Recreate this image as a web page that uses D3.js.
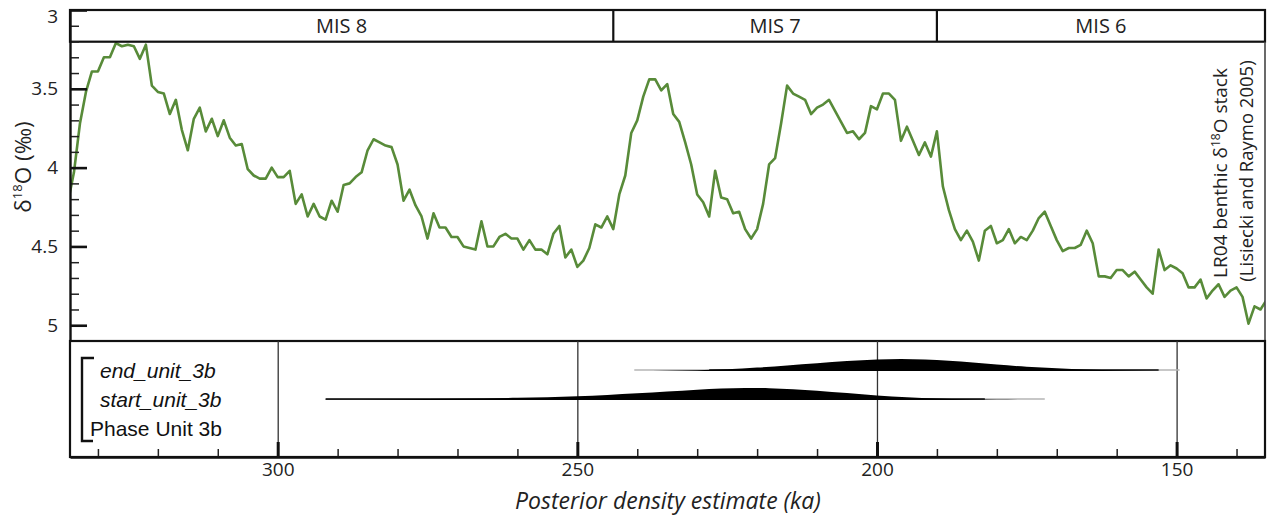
<!DOCTYPE html>
<html>
<head>
<meta charset="utf-8">
<script src="https://cdn.jsdelivr.net/npm/d3@7"></script>
<style>
body { margin: 0; background: #fff; }
svg { display: block; }
.axis text { font-family: "Open Sans", sans-serif; font-size: 19px; fill: #222; }
.lbl { font-family: "Open Sans", sans-serif; fill: #222; }
.row { font-family: "Liberation Sans", Arial, sans-serif; font-size: 21px; fill: #111; }
</style>
</head>
<body>
<div id="chart"></div>
<script>
// LR04 stack, one sample per ka from 335 to 135 ka
var ages = d3.range(335, 134, -1);
var d18O = [
    4.22, 4.03, 3.72, 3.52, 3.39, 3.39, 3.30, 3.30, 3.21, 3.23,
    3.22, 3.23, 3.31, 3.22, 3.48, 3.52, 3.53, 3.66, 3.57, 3.76,
    3.89, 3.69, 3.62, 3.77, 3.69, 3.80, 3.70, 3.81, 3.86, 3.85,
    4.01, 4.05, 4.07, 4.07, 4.00, 4.06, 4.06, 4.02, 4.23, 4.17,
    4.31, 4.23, 4.31, 4.33, 4.21, 4.28, 4.11, 4.10, 4.06, 4.03,
    3.89, 3.82, 3.84, 3.86, 3.87, 3.98, 4.21, 4.14, 4.24, 4.31,
    4.45, 4.29, 4.38, 4.38, 4.44, 4.44, 4.50, 4.51, 4.52, 4.34,
    4.50, 4.50, 4.44, 4.42, 4.45, 4.45, 4.52, 4.46, 4.52, 4.52,
    4.55, 4.42, 4.37, 4.57, 4.52, 4.63, 4.59, 4.51, 4.36, 4.38,
    4.31, 4.39, 4.17, 4.05, 3.78, 3.70, 3.55, 3.44, 3.44, 3.51,
    3.47, 3.66, 3.71, 3.84, 3.98, 4.17, 4.22, 4.31, 4.02, 4.19,
    4.20, 4.29, 4.28, 4.39, 4.45, 4.39, 4.23, 3.98, 3.94, 3.72,
    3.48, 3.53, 3.55, 3.57, 3.66, 3.62, 3.60, 3.57, 3.64, 3.71,
    3.78, 3.77, 3.82, 3.78, 3.61, 3.63, 3.53, 3.53, 3.57, 3.83,
    3.74, 3.83, 3.92, 3.84, 3.93, 3.77, 4.12, 4.27, 4.39, 4.46,
    4.40, 4.47, 4.59, 4.40, 4.37, 4.48, 4.46, 4.39, 4.48, 4.44,
    4.46, 4.40, 4.32, 4.28, 4.37, 4.46, 4.53, 4.51, 4.51, 4.49,
    4.40, 4.48, 4.69, 4.69, 4.70, 4.65, 4.65, 4.69, 4.66, 4.71,
    4.76, 4.80, 4.52, 4.65, 4.62, 4.64, 4.67, 4.76, 4.76, 4.71,
    4.83, 4.78, 4.74, 4.82, 4.78, 4.76, 4.82, 4.99, 4.88, 4.90,
    4.84
];

// marine isotope stages
var misLabels = ["MIS 8", "MIS 7", "MIS 6"];
var misBounds = [244, 190];

// posterior densities (relative)
var rowLabels = ["end_unit_3b", "start_unit_3b", "Phase Unit 3b"];
var endAges = [240, 235, 230, 225, 220, 215, 210, 205, 200, 196, 192, 188, 184, 180, 175, 170, 165, 160, 155, 150];
var endDens = [0, 0.02, 0.06, 0.14, 0.27, 0.43, 0.6, 0.77, 0.9, 0.94, 0.9, 0.8, 0.66, 0.5, 0.34, 0.22, 0.13, 0.07, 0.03, 0];
var endRange = [240.5, 149.5];
var endCore = [228, 153];
var startAges = [292, 280, 270, 260, 250, 245, 240, 235, 230, 226, 222, 218, 214, 210, 205, 200, 195, 190, 185, 180, 172];
var startDens = [0.04, 0.07, 0.11, 0.18, 0.3, 0.4, 0.52, 0.66, 0.8, 0.9, 0.94, 0.92, 0.84, 0.72, 0.54, 0.36, 0.22, 0.12, 0.06, 0.02, 0];
var startRange = [292, 172];
var startCore = [292, 182];

// ticks
var majorX = [300, 250, 200, 150];
var minorX = [330, 320, 310, 290, 280, 270, 260, 240, 230, 220, 210, 190, 180, 170, 160, 140];
var majorY = [3, 3.5, 4, 4.5, 5];
var minorY = [3.1, 3.2, 3.3, 3.4, 3.6, 3.7, 3.8, 3.9, 4.1, 4.2, 4.3, 4.4, 4.6, 4.7, 4.8, 4.9];

var W = 1268, H = 517;
var pLeft = 70, pRight = 1265, pTop = 10, pSep = 341, pBottom = 457, bandBottom = 41.7;

var svg = d3.select("#chart").append("svg")
    .attr("width", W)
    .attr("height", H);

var x = d3.scaleLinear().domain([334.66, 135.25]).range([pLeft, pRight]);
var y = d3.scaleLinear().domain([3, 5.1]).range([pTop, pSep]);
var rowY = d3.scalePoint().domain(rowLabels).range([370, 428]);
var h = d3.scaleLinear().domain([0, 1]).range([0, 13]);

svg.append("clipPath").attr("id", "clipTop")
    .append("rect")
    .attr("x", pLeft).attr("y", pTop)
    .attr("width", pRight - pLeft).attr("height", pSep - pTop);

// the isotope curve
var line = d3.line()
    .x(function (d, i) { return x(ages[i]); })
    .y(function (d) { return y(d); });

svg.append("path")
    .datum(d18O)
    .attr("clip-path", "url(#clipTop)")
    .attr("fill", "none")
    .attr("stroke", "#588b39")
    .attr("stroke-width", 2.6)
    .attr("stroke-linejoin", "round")
    .attr("d", line);

// MIS band
svg.append("rect")
    .attr("x", pLeft).attr("y", pTop)
    .attr("width", pRight - pLeft).attr("height", bandBottom - pTop)
    .attr("fill", "#fff")
    .attr("stroke", "#111")
    .attr("stroke-width", 2.2);

svg.selectAll(".misdiv")
    .data(misBounds)
    .enter().append("line")
    .attr("class", "misdiv")
    .attr("x1", function (d) { return x(d); })
    .attr("x2", function (d) { return x(d); })
    .attr("y1", pTop).attr("y2", bandBottom)
    .attr("stroke", "#111")
    .attr("stroke-width", 2.2);

var edges = [x.domain()[0]].concat(misBounds, [x.domain()[1]]);
svg.selectAll(".mislabel")
    .data(misLabels)
    .enter().append("text")
    .attr("class", "lbl")
    .attr("x", function (d, i) { return (x(edges[i]) + x(edges[i + 1])) / 2; })
    .attr("y", (pTop + bandBottom) / 2 + 7)
    .attr("text-anchor", "middle")
    .style("font-size", "20px")
    .text(function (d) { return d; });

// right border of top panel
svg.append("line")
    .attr("x1", pRight).attr("x2", pRight)
    .attr("y1", bandBottom).attr("y2", pSep)
    .attr("stroke", "#444")
    .attr("stroke-width", 1.6);

// bottom panel frame
svg.append("rect")
    .attr("x", pLeft).attr("y", pSep)
    .attr("width", pRight - pLeft).attr("height", pBottom - pSep)
    .attr("fill", "none")
    .attr("stroke", "#111")
    .attr("stroke-width", 2.2);

// vertical gridlines in bottom panel
svg.append("g")
    .attr("class", "grid")
    .attr("transform", "translate(0," + pBottom + ")")
    .call(d3.axisBottom(x)
        .tickValues(majorX)
        .tickSize(-(pBottom - pSep))
        .tickFormat(""))
    .call(function (g) { g.select(".domain").remove(); })
    .selectAll("line")
    .attr("stroke", "#333")
    .attr("stroke-width", 1.3);

// densities: thin range line (grey tails, black core) with filled posterior on top
function drawDensity(name, a, dens, range, core) {
    var base = rowY(name);
    var pts = a.map(function (d, i) { return [d, dens[i]]; });

    svg.append("line")
        .attr("x1", x(range[0])).attr("x2", x(range[1]))
        .attr("y1", base).attr("y2", base)
        .attr("stroke", "#b4b4b4")
        .attr("stroke-width", 1.6);

    svg.append("line")
        .attr("x1", x(core[0])).attr("x2", x(core[1]))
        .attr("y1", base).attr("y2", base)
        .attr("stroke", "#111")
        .attr("stroke-width", 1.4);

    svg.append("path")
        .datum(pts)
        .attr("fill", "#000")
        .attr("d", d3.area()
            .curve(d3.curveMonotoneX)
            .x(function (d) { return x(d[0]); })
            .y0(base + 1.1)
            .y1(function (d) { return base + 1.1 - h(d[1]); }));
}
drawDensity("end_unit_3b", endAges, endDens, endRange, endCore);
drawDensity("start_unit_3b", startAges, startDens, startRange, startCore);

// row labels and bracket
svg.selectAll(".row")
    .data(rowLabels)
    .enter().append("text")
    .attr("class", "row")
    .attr("x", function (d, i) { return i < 2 ? 100 : 90; })
    .attr("y", function (d) { return rowY(d) + 8; })
    .style("font-style", function (d, i) { return i < 2 ? "italic" : "normal"; })
    .text(function (d) { return d; });

svg.append("path")
    .attr("d", "M94,358H82V441H93")
    .attr("fill", "none")
    .attr("stroke", "#111")
    .attr("stroke-width", 2.4);

// y axis (top panel)
svg.append("g")
    .attr("class", "axis")
    .attr("transform", "translate(" + pLeft + ",0)")
    .call(d3.axisLeft(y).tickValues(minorY).tickSize(-9).tickSizeOuter(0).tickFormat(""))
    .call(function (g) { g.select(".domain").remove(); })
    .selectAll("line").attr("stroke", "#222").attr("stroke-width", 1.5);

var yAxis = svg.append("g")
    .attr("class", "axis")
    .attr("transform", "translate(" + pLeft + ",0)")
    .call(d3.axisLeft(y).tickValues(majorY).tickSize(-17).tickSizeOuter(0).tickPadding(12).tickFormat(d3.format("")));
yAxis.select(".domain").attr("stroke", "#111").attr("stroke-width", 2.4);
yAxis.selectAll(".tick line").attr("stroke", "#111").attr("stroke-width", 2.6);
yAxis.selectAll(".tick text").filter(function (d) { return d === 3; }).attr("y", 6);

// x axis (bottom panel)
svg.append("g")
    .attr("class", "axis")
    .attr("transform", "translate(0," + pBottom + ")")
    .call(d3.axisBottom(x).tickValues(minorX).tickSize(-8).tickSizeOuter(0).tickFormat(""))
    .call(function (g) { g.select(".domain").remove(); })
    .selectAll("line").attr("stroke", "#222").attr("stroke-width", 1.5);

var xAxis = svg.append("g")
    .attr("class", "axis")
    .attr("transform", "translate(0," + pBottom + ")")
    .call(d3.axisBottom(x).tickValues(majorX).tickSize(-15).tickSizeOuter(0).tickPadding(5));
xAxis.select(".domain").attr("stroke", "#111").attr("stroke-width", 2.4);
xAxis.selectAll(".tick line").attr("stroke", "#111").attr("stroke-width", 3);

// axis titles
svg.append("text")
    .attr("class", "lbl")
    .attr("x", 668)
    .attr("y", 509)
    .attr("text-anchor", "middle")
    .style("font-size", "23px")
    .style("font-style", "italic")
    .text("Posterior density estimate (ka)");

var yt = svg.append("text")
    .attr("class", "lbl")
    .attr("transform", "translate(31,167) rotate(-90)")
    .attr("text-anchor", "middle")
    .style("font-size", "22.5px");
yt.append("tspan").text("δ");
yt.append("tspan").attr("dy", -9).style("font-size", "13px").text("18");
yt.append("tspan").attr("dy", 9).text("O (‰)");

var r1 = svg.append("text")
    .attr("class", "lbl")
    .attr("transform", "translate(1227,173) rotate(-90)")
    .attr("text-anchor", "middle")
    .style("font-size", "19px");
r1.append("tspan").text("LR04 benthic δ");
r1.append("tspan").attr("dy", -7).style("font-size", "12px").text("18");
r1.append("tspan").attr("dy", 7).text("O stack");

svg.append("text")
    .attr("class", "lbl")
    .attr("transform", "translate(1253,171) rotate(-90)")
    .attr("text-anchor", "middle")
    .style("font-size", "18.5px")
    .text("(Lisiecki and Raymo 2005)");
</script>
</body>
</html>
